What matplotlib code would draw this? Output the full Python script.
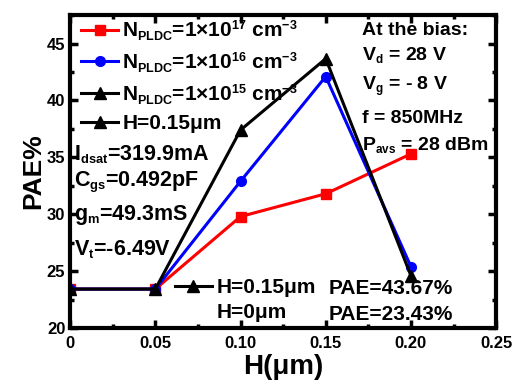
import matplotlib
matplotlib.use("Agg")
import matplotlib.pyplot as plt
import matplotlib._mathtext as mathtext_internal
from matplotlib.lines import Line2D
from matplotlib.ticker import MultipleLocator

plt.rcParams['font.family'] = ['Liberation Sans', 'DejaVu Sans']
plt.rcParams['font.weight'] = 'bold'
plt.rcParams['mathtext.fontset'] = 'custom'
plt.rcParams['mathtext.rm'] = 'Liberation Sans:bold'
plt.rcParams['mathtext.it'] = 'Liberation Sans:bold'
plt.rcParams['mathtext.bf'] = 'Liberation Sans:bold'
# smaller sub/superscripts, like the original figure
mathtext_internal.SHRINK_FACTOR = 0.6

# data
h = [0.0, 0.05, 0.10, 0.15, 0.20]
pae_1e17 = [23.43, 23.43, 29.8, 31.8, 35.3]
pae_1e16 = [23.43, 23.43, 32.9, 42.1, 25.4]
pae_1e15 = [23.43, 23.43, 37.4, 43.67, 24.6]

labels = [r'N$_{\rm PLDC}$=1$\times$10$^{17}$ cm$^{-3}$',
          r'N$_{\rm PLDC}$=1$\times$10$^{16}$ cm$^{-3}$',
          r'N$_{\rm PLDC}$=1$\times$10$^{15}$ cm$^{-3}$']
params = [r'I$_{\rm dsat}$=319.9mA', r'C$_{\rm gs}$=0.492pF',
          r'g$_{\rm m}$=49.3mS', r'V$_{\rm t}$=-6.49V']
params_y = [0.555, 0.465, 0.36, 0.25]
bias = ['At the bias:', r'V$_{\rm d}$ = 28 V', r'V$_{\rm g}$ = - 8 V',
        'f = 850MHz', r'P$_{\rm avs}$ = 28 dBm']
bias_y = [0.952, 0.872, 0.772, 0.668, 0.585]

fig = plt.figure(figsize=(5.12, 3.86), dpi=100)
ax = fig.add_axes([0.137, 0.150, 0.832, 0.811])

l1, = ax.plot(h, pae_1e17, color='red', marker='s', lw=2.2, ms=6.5, label=labels[0])
l2, = ax.plot(h, pae_1e16, color='blue', marker='o', lw=2.2, ms=7, label=labels[1])
l3, = ax.plot(h, pae_1e15, color='black', marker='^', lw=2.2, ms=8, label=labels[2])
l4 = Line2D([], [], color='black', marker='^', lw=2.2, ms=8)

ax.set_xlim(0, 0.25)
ax.set_ylim(20, 47.5)
ax.set_xticks([0, 0.05, 0.10, 0.15, 0.20, 0.25])
ax.set_xticklabels(['0', '0.05', '0.10', '0.15', '0.20', '0.25'])
ax.set_yticks([20, 25, 30, 35, 40, 45])
ax.xaxis.set_minor_locator(MultipleLocator(0.025))
ax.yaxis.set_minor_locator(MultipleLocator(2.5))
ax.tick_params(which='both', direction='in', top=True, right=True, width=2.5)
ax.tick_params(which='major', length=6, labelsize=12)
ax.tick_params(axis='x', which='major', pad=6)
ax.tick_params(which='minor', length=3)
for sp in ax.spines.values():
    sp.set_linewidth(3)

ax.set_xlabel('H(μm)', fontsize=20, fontweight='bold', labelpad=2)
ax.set_ylabel('PAE%', fontsize=19, fontweight='bold', labelpad=1)

leg = ax.legend([l1, l2, l3, l4], labels + ['H=0.15μm'], loc='upper left',
                bbox_to_anchor=(0.025, 0.99), frameon=False, fontsize=15,
                handlelength=1.8, handletextpad=0.2, labelspacing=0.35,
                borderaxespad=0.0, borderpad=0.0)
ax.add_artist(leg)

for s, y in zip(params, params_y):
    ax.text(0.008, y, s, transform=ax.transAxes, fontsize=15.5,
            ha='left', va='center')

for s, y in zip(bias, bias_y):
    ax.text(0.685, y, s, transform=ax.transAxes, fontsize=14,
            ha='left', va='center')

blank = Line2D([], [], color='none')
ax.legend([l4, blank], ['H=0.15μm', 'H=0μm'], loc='upper left',
          bbox_to_anchor=(0.245, 0.16), frameon=False, fontsize=15,
          handlelength=1.8, handletextpad=0.2, labelspacing=0.3,
          borderaxespad=0.0, borderpad=0.0)
ax.text(0.606, 0.125, 'PAE=43.67%', transform=ax.transAxes, fontsize=15,
        ha='left', va='center')
ax.text(0.606, 0.045, 'PAE=23.43%', transform=ax.transAxes, fontsize=15,
        ha='left', va='center')

fig.savefig('out.png', dpi=100)
